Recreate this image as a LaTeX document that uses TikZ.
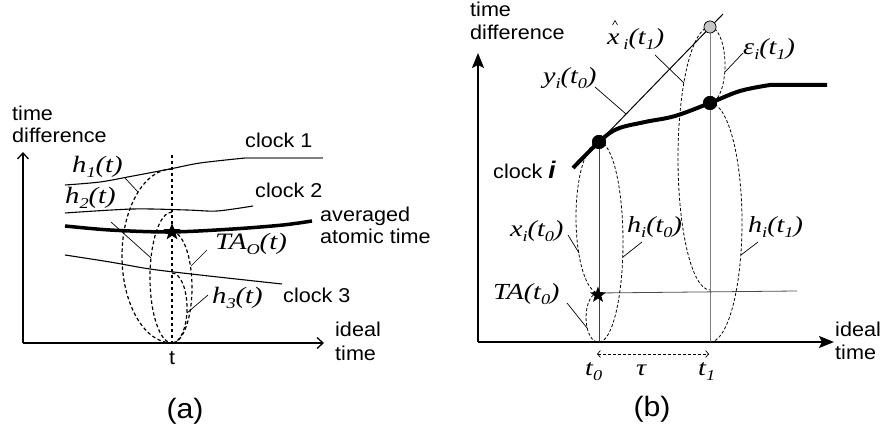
\documentclass[tikz,border=0pt]{standalone}
\usepackage{fontspec}
\setmainfont{Liberation Serif}[FakeStretch=1.22]
\setsansfont{Liberation Sans}[FakeStretch=1.08]
\usetikzlibrary{arrows.meta,shapes.geometric}
\newcommand\sbs[1]{\raisebox{-0.18em}{\fontsize{15}{15}\selectfont #1}}

\begin{document}
\begin{tikzpicture}[x=1pt,y=-1pt,
    sans/.style={font=\sffamily\fontsize{20}{22}\selectfont,inner sep=0pt,anchor=base west},
    ital/.style={font=\fontsize{23.5}{25}\selectfont\itshape,inner sep=0pt,anchor=base west},
    italB/.style={ital,font=\fontsize{23}{25}\selectfont\itshape},
    axA/.style={line width=1.3pt,-{Straight Barb[length=6pt,width=11pt]}},
    axB/.style={line width=2pt,-{Stealth[length=15pt,width=12pt,inset=3pt]}},
    lead/.style={line width=0.7pt},
    dshA/.style={line width=1.2pt,dash pattern=on 3.5pt off 2.5pt},
    dshB/.style={line width=0.8pt,dash pattern=on 3pt off 2pt},
    dot/.style={circle,fill,inner sep=0pt,minimum size=14pt},
    starn/.style={star,star points=5,star point ratio=2.4,fill,inner sep=0pt,minimum size=18pt}]
  \useasboundingbox (0,0) rectangle (884,435);

  % (a) several clocks
  \coordinate (oA) at (23,343);
  \coordinate (yA) at (23,152);
  \coordinate (xA) at (324,343);
  \draw[axA] (oA) -- (yA);
  \draw[axA] (oA) -- (xA);
  \node[sans] (tdA1) at (12,121) {time};
  \node[sans] (tdA2) at (12,143) {difference};
  \node[sans] (idA1) at (335,337) {ideal};
  \node[sans] (idA2) at (335,361) {time};
  \node[sans,anchor=base] (tA) at (172,365) {t};

  \draw[line width=1.1pt] plot[smooth] coordinates {(65,185) (100,182) (133,176) (170,169) (200,163) (245,158)};
  \draw[line width=1.1pt,gray] (245,158) -- (323,158);
  \draw[line width=1.1pt] plot[smooth] coordinates {(65,213) (133,209) (187,210) (217,211) (253,206)};
  \draw[line width=3.5pt] plot[smooth] coordinates {(65,226) (110,230) (170,232) (233,229) (283,225) (312,221)};
  \draw[line width=1.1pt] plot[smooth] coordinates {(65,255) (110,262) (150,269) (200,275) (282,284)};
  \node[sans] (ck1) at (245,148) {clock 1};
  \node[sans] (ck2) at (255,198) {clock 2};
  \node[sans] (avg1) at (320,222) {averaged};
  \node[sans] (avg2) at (320,244) {atomic time};
  \node[sans] (ck3) at (283,303) {clock 3};

  \coordinate (tTop) at (172,155);
  \coordinate (tBot) at (172,343);
  \draw[dshA] (tTop) -- (tBot);
  \coordinate (eA1) at (172,169);
  \coordinate (eA2) at (172,212);
  \coordinate (eA3) at (172,232);
  \coordinate (eA4) at (172,273);
  \draw[dshA] (eA1) arc[start angle=-90,end angle=-270,x radius=50,y radius=87];
  \draw[dshA] (eA2) arc[start angle=-90,end angle=-270,x radius=22,y radius=65.5];
  \draw[dshA] (eA3) arc[start angle=-90,end angle=90,x radius=20,y radius=55.5];
  \draw[dshA] (eA4) arc[start angle=-90,end angle=90,x radius=15,y radius=35];
  \node[starn] (sA) at (eA3) {};

  \node[ital] (h1) at (72,173) {h\sbs{1}(t)};
  \node[ital] (h2) at (65,204) {h\sbs{2}(t)};
  \node[ital] (ta0) at (215,250) {TA\sbs{O}(t)};
  \node[ital] (h3) at (212,304) {h\sbs{3}(t)};
  \coordinate (h1a) at (125,178); \coordinate (h1b) at (138,192);
  \coordinate (h2a) at (111,222); \coordinate (h2b) at (151,258);
  \coordinate (ta0a) at (207,250); \coordinate (ta0b) at (191,266);
  \coordinate (h3a) at (208,295); \coordinate (h3b) at (187,313);
  \draw[lead] (h1a) -- (h1b);
  \draw[lead] (h2a) -- (h2b);
  \draw[lead] (ta0a) -- (ta0b);
  \draw[lead] (h3a) -- (h3b);
  \node[font=\sffamily\fontsize{28}{30}\selectfont,anchor=base,inner sep=0pt] (capA) at (185,419) {(a)};

  % (b) one clock
  \coordinate (oB) at (478,342);
  \coordinate (yB) at (478,53);
  \coordinate (xB) at (834,342);
  \draw[axB] (oB) -- (yB);
  \draw[axB] (oB) -- (xB);
  \node[sans] (tdB1) at (470,17) {time};
  \node[sans] (tdB2) at (470,40) {difference};
  \node[sans] (idB1) at (835,337) {ideal};
  \node[sans] (idB2) at (835,360) {time};
  \node[sans] (cki) at (493,179) {clock \textbf{\textit{\fontsize{24}{24}\selectfont i}}};

  \coordinate (g0) at (599,342);
  \coordinate (g1) at (710,342);
  \coordinate (pEnd) at (723,14);
  \coordinate (sB) at (598,293);
  \coordinate (hEnd) at (797,291);
  \draw[line width=4pt] plot[smooth,tension=0.6] coordinates {(573,168) (599,142) (617,129) (645,122) (675,116) (710,103) (740,91) (770,85)} -- (827,85);
  \node[dot] (d0) at (599,142) {};
  \node[dot] (d1) at (710,103) {};
  \node[circle,draw,fill=gray!45,line width=0.6pt,inner sep=0pt,minimum size=12pt] (gd) at (710,27) {};
  \draw[line width=1pt] (d0.center) -- (pEnd);
  \draw[line width=0.8pt,black!75] (d0.center) -- (g0);
  \draw[line width=0.8pt,gray] (gd.south) -- (g1);
  \draw[line width=0.8pt,black!70] (sB) -- (hEnd);

  \draw[dshB] (d0.center) arc[start angle=-90,end angle=-270,x radius=23,y radius=75.5];
  \draw[dshB] (sB) arc[start angle=-90,end angle=-270,x radius=12,y radius=24.5];
  \draw[dshB] (d0.center) arc[start angle=-90,end angle=90,x radius=24,y radius=100];
  \draw[dshB] (gd.center) arc[start angle=-90,end angle=-270,x radius=32,y radius=131.5];
  \draw[dshB] (gd.center) arc[start angle=-90,end angle=90,x radius=15,y radius=38];
  \draw[dshB] (d1.center) arc[start angle=-90,end angle=90,x radius=32,y radius=119.5];
  \node[dot] at (d0) {};
  \node[dot] at (d1) {};
  \node[circle,draw,fill=gray!45,line width=0.6pt,inner sep=0pt,minimum size=12pt] at (gd) {};
  \node[starn,minimum size=17pt] (sBn) at (598,295) {};

  \node[italB] (xh) at (607,45) {x\,\sbs{i}(t\sbs{1})};
  \draw[line width=0.6pt] (612.5,25) -- (615,20.5) -- (617.5,25);
  \node[italB] (eps) at (743,55) {ε\sbs{i}(t\sbs{1})};
  \node[italB] (yi) at (543,84) {y\sbs{i}(t\sbs{0})};
  \node[italB] (xi) at (510,237) {x\sbs{i}(t\sbs{0})};
  \node[italB] (hi0) at (627,233) {h\sbs{i}(t\sbs{0})};
  \node[italB] (hi1) at (748,233) {h\sbs{i}(t\sbs{1})};
  \node[italB] (ta) at (493,300) {TA(t\sbs{0})};
  \node[italB] (t0) at (585,376) {t\sbs{0}};
  \node[italB] (tau) at (636,376) {τ};
  \node[italB] (t1) at (698,376) {t\sbs{1}};
  \coordinate (xha) at (655,55); \coordinate (xhb) at (684,83);
  \coordinate (epsa) at (743,53); \coordinate (epsb) at (725,72);
  \coordinate (yia) at (595,87); \coordinate (yib) at (626,114);
  \coordinate (xia) at (568,235); \coordinate (xib) at (579,253);
  \coordinate (hi0a) at (642,242); \coordinate (hi0b) at (623,257);
  \coordinate (hi1a) at (758,242); \coordinate (hi1b) at (741,255);
  \coordinate (taa) at (567,303); \coordinate (tab) at (587,328);
  \draw[lead] (xha) -- (xhb);
  \draw[lead] (epsa) -- (epsb);
  \draw[lead] (yia) -- (yib);
  \draw[lead] (xia) -- (xib);
  \draw[lead] (hi0a) -- (hi0b);
  \draw[lead] (hi1a) -- (hi1b);
  \draw[lead] (taa) -- (tab);
  \coordinate (tauL) at (597,354);
  \coordinate (tauR) at (709,354);
  \draw[lead,dash pattern=on 3pt off 2pt,{Straight Barb[length=3pt,width=7pt]}-{Straight Barb[length=3pt,width=7pt]}] (tauL) -- (tauR);
  \node[font=\sffamily\fontsize{28}{30}\selectfont,anchor=base,inner sep=0pt] (capB) at (652,417) {(b)};
\end{tikzpicture}
\end{document}
